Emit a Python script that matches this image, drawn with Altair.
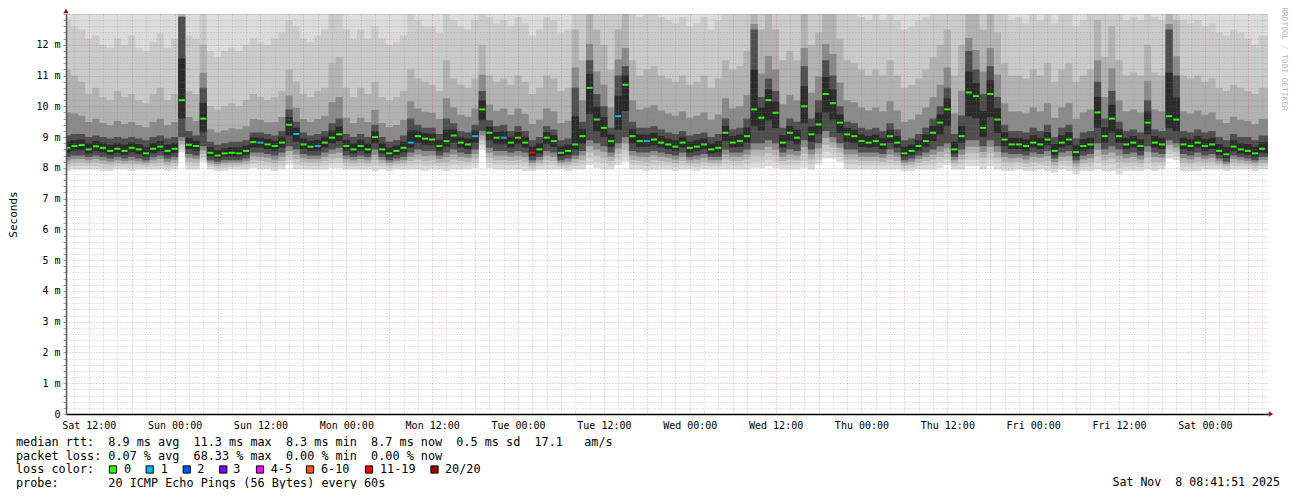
import altair as alt
import pandas as pd

# ---------------- data ----------------
# hourly samples, hour counted from Sat 00:00
hours = list(range(9, 177))

rtt_median = [
    8.65, 8.71, 8.74, 8.60, 8.70, 8.65, 8.55, 8.62, 8.55, 8.65, 8.60, 8.47,
    8.62, 8.69, 8.55, 8.62, 10.20, 8.75, 8.71, 9.60, 8.49, 8.40, 8.47, 8.49,
    8.47, 8.55, 8.84, 8.82, 8.76, 8.71, 8.82, 9.40, 9.10, 8.76, 8.69, 8.71,
    8.82, 8.98, 9.09, 8.71, 8.60, 8.71, 8.60, 9.00, 8.60, 8.47, 8.55, 8.65,
    8.82, 9.03, 8.95, 8.92, 8.71, 8.87, 9.05, 8.82, 8.76, 9.03, 9.90, 9.14,
    8.98, 8.98, 8.82, 8.98, 8.82, 8.49, 8.60, 8.98, 8.87, 8.49, 8.55, 8.76,
    9.03, 10.60, 9.57, 9.30, 8.87, 9.68, 10.70, 9.03, 8.87, 8.87, 8.92, 8.82,
    8.76, 8.69, 8.82, 8.65, 8.69, 8.76, 8.60, 8.65, 9.14, 8.82, 8.87, 9.03,
    9.90, 9.63, 10.20, 9.79, 8.82, 9.14, 8.98, 10.00, 9.09, 9.41, 10.40, 10.10,
    9.47, 9.09, 9.03, 8.87, 8.82, 8.87, 8.76, 9.03, 8.82, 8.47, 8.55, 8.71,
    8.87, 9.14, 9.47, 9.90, 8.60, 9.03, 10.45, 10.33, 9.30, 10.40, 9.57, 8.92,
    8.76, 8.76, 8.71, 8.82, 8.76, 8.92, 8.55, 8.82, 8.92, 8.51, 8.71, 8.76,
    9.80, 9.03, 9.60, 9.03, 8.76, 8.82, 8.71, 9.47, 8.82, 8.76, 9.68, 9.57,
    8.76, 8.71, 8.82, 8.71, 8.76, 8.55, 8.44, 8.69, 8.60, 8.55, 8.47, 8.62,
]

# lowest ping (bottom edge of the smoke)
smoke_floor = [
    7.90, 7.95, 7.95, 7.95, 7.95, 7.90, 7.90, 7.95, 7.95, 7.90, 7.95, 7.95,
    7.95, 7.95, 7.90, 7.95, 8.50, 7.95, 7.95, 8.20, 7.95, 7.90, 7.90, 7.95,
    7.95, 7.95, 8.00, 7.95, 7.95, 7.90, 7.95, 8.10, 7.95, 7.95, 7.95, 7.95,
    7.95, 8.00, 8.00, 7.95, 7.95, 7.95, 7.95, 7.90, 7.95, 7.90, 7.95, 7.95,
    7.95, 7.95, 7.90, 7.95, 7.95, 7.90, 7.95, 7.95, 7.95, 8.00, 8.60, 8.00,
    7.95, 7.95, 7.95, 7.95, 7.90, 7.90, 7.95, 7.95, 7.95, 7.95, 7.90, 7.95,
    7.95, 8.10, 8.00, 7.95, 7.95, 8.10, 8.20, 7.95, 7.95, 7.90, 7.95, 7.95,
    7.95, 7.90, 7.95, 7.95, 7.90, 7.95, 7.95, 7.95, 7.95, 7.95, 7.95, 7.95,
    8.00, 8.00, 8.05, 8.00, 7.95, 7.95, 7.95, 8.00, 7.95, 8.10, 8.30, 8.30,
    8.20, 7.95, 7.95, 7.95, 7.95, 7.95, 7.95, 7.95, 7.95, 7.90, 7.90, 7.95,
    7.95, 7.95, 8.00, 8.10, 7.95, 7.95, 8.05, 8.05, 7.95, 8.05, 7.95, 7.90,
    7.90, 7.95, 7.90, 7.90, 7.95, 7.90, 7.85, 7.95, 7.90, 7.80, 7.90, 7.90,
    7.95, 7.90, 7.90, 7.80, 7.90, 7.90, 7.90, 7.95, 7.90, 7.95, 8.30, 8.25,
    7.90, 7.90, 7.90, 7.95, 7.95, 7.95, 7.90, 7.95, 7.95, 7.95, 7.90, 7.95,
]

# lower edge of the dark core
smoke_low = [
    8.35, 8.40, 8.40, 8.35, 8.40, 8.35, 8.30, 8.35, 8.30, 8.35, 8.30, 8.25,
    8.35, 8.40, 8.30, 8.35, 9.00, 8.45, 8.40, 8.70, 8.25, 8.20, 8.25, 8.25,
    8.25, 8.30, 8.50, 8.50, 8.45, 8.40, 8.50, 8.70, 8.60, 8.45, 8.40, 8.40,
    8.50, 8.60, 8.65, 8.40, 8.35, 8.40, 8.35, 8.60, 8.35, 8.25, 8.30, 8.35,
    8.50, 8.60, 8.55, 8.55, 8.40, 8.50, 8.60, 8.50, 8.45, 8.60, 9.20, 8.65,
    8.55, 8.55, 8.50, 8.55, 8.50, 8.25, 8.35, 8.55, 8.50, 8.25, 8.30, 8.40,
    8.55, 8.90, 8.80, 8.70, 8.50, 8.80, 9.00, 8.55, 8.50, 8.50, 8.55, 8.50,
    8.45, 8.40, 8.50, 8.35, 8.40, 8.45, 8.35, 8.35, 8.60, 8.50, 8.50, 8.60,
    8.80, 8.80, 8.90, 8.80, 8.50, 8.60, 8.55, 8.90, 8.60, 8.80, 9.20, 9.00,
    8.80, 8.60, 8.60, 8.50, 8.50, 8.50, 8.45, 8.60, 8.50, 8.25, 8.30, 8.40,
    8.50, 8.60, 8.70, 8.80, 8.35, 8.60, 8.90, 8.90, 8.70, 8.90, 8.70, 8.50,
    8.45, 8.45, 8.40, 8.50, 8.45, 8.55, 8.30, 8.50, 8.55, 8.25, 8.40, 8.45,
    8.80, 8.60, 8.70, 8.60, 8.45, 8.50, 8.40, 8.70, 8.50, 8.45, 8.90, 8.80,
    8.45, 8.40, 8.50, 8.40, 8.45, 8.30, 8.20, 8.40, 8.35, 8.30, 8.25, 8.35,
]

# upper edge of the dark core
smoke_dark = [
    9.05, 9.10, 9.10, 9.00, 9.05, 9.00, 8.95, 9.00, 8.95, 9.00, 8.95, 8.90,
    9.00, 9.05, 8.95, 9.00, 12.90, 9.20, 9.05, 10.60, 8.85, 8.75, 8.80, 8.85,
    8.85, 8.90, 9.15, 9.15, 9.10, 9.05, 9.20, 9.90, 9.50, 9.15, 9.05, 9.10,
    9.20, 9.45, 9.60, 9.10, 9.00, 9.10, 9.00, 9.40, 9.00, 8.85, 8.90, 9.05,
    9.60, 9.40, 9.30, 9.30, 9.10, 9.60, 9.45, 9.20, 9.15, 9.40, 10.50, 9.55,
    9.35, 9.40, 9.20, 9.35, 9.20, 8.90, 9.00, 9.35, 9.25, 8.90, 8.95, 10.60,
    9.50, 11.50, 10.40, 10.00, 9.30, 11.00, 11.30, 9.50, 9.30, 9.30, 9.35, 9.25,
    9.15, 9.10, 9.20, 9.05, 9.10, 9.15, 9.00, 9.10, 9.60, 9.25, 9.30, 9.60,
    12.50, 10.30, 10.90, 10.50, 9.30, 9.60, 9.50, 11.30, 9.60, 10.20, 11.50, 11.00,
    10.00, 9.50, 9.45, 9.30, 9.25, 9.30, 9.20, 9.45, 9.25, 8.90, 8.95, 9.10,
    9.30, 9.60, 10.00, 10.60, 9.10, 9.70, 11.80, 11.20, 10.40, 11.30, 10.30, 9.40,
    9.20, 9.20, 9.15, 9.30, 9.20, 9.40, 9.00, 9.30, 9.40, 8.95, 9.15, 9.20,
    10.80, 9.60, 10.50, 9.50, 9.20, 9.25, 9.15, 10.20, 9.25, 9.20, 12.50, 11.00,
    9.20, 9.15, 9.25, 9.15, 9.20, 9.00, 8.90, 9.10, 9.00, 9.00, 8.90, 9.05,
]

# upper edge of the medium grey smoke
smoke_mid = [
    11.2, 11.0, 10.8, 10.4, 10.6, 10.3, 10.2, 10.5, 10.3, 10.4, 10.2, 10.1,
    10.4, 10.6, 10.2, 10.4, 13.0, 10.5, 10.4, 12.0, 10.0, 9.9, 10.0, 10.1,
    10.0, 10.2, 10.4, 10.3, 10.2, 10.3, 10.5, 11.2, 10.8, 10.4, 10.3, 10.5,
    10.6, 11.4, 11.6, 10.6, 10.3, 10.6, 10.4, 10.8, 10.3, 10.2, 10.3, 10.5,
    11.2, 10.9, 10.8, 10.7, 10.5, 11.5, 10.9, 10.7, 10.6, 10.9, 12.0, 11.0,
    10.8, 10.9, 10.7, 11.0, 10.8, 10.4, 10.6, 11.0, 10.9, 10.5, 10.6, 12.5,
    11.5, 13.0, 12.5, 12.0, 11.2, 12.5, 13.0, 11.5, 11.0, 11.2, 11.3, 11.0,
    10.9, 10.8, 11.0, 10.7, 10.8, 11.0, 10.6, 10.9, 11.5, 11.2, 11.3, 11.8,
    13.0, 12.5, 13.0, 12.5, 11.5, 11.8, 11.5, 13.0, 12.0, 12.4, 13.0, 13.0,
    12.2, 11.5, 11.4, 11.2, 11.0, 11.2, 11.0, 11.5, 11.0, 10.6, 10.7, 10.9,
    11.2, 11.6, 12.0, 12.5, 11.0, 12.0, 13.0, 13.0, 12.5, 13.0, 12.4, 11.4,
    11.0, 11.0, 10.9, 11.2, 11.0, 11.4, 10.8, 11.2, 11.4, 10.8, 11.0, 11.2,
    12.8, 11.6, 12.6, 11.5, 11.0, 11.1, 11.0, 12.0, 11.1, 11.0, 13.0, 12.8,
    11.0, 10.9, 11.0, 10.8, 10.9, 10.6, 10.5, 10.7, 10.6, 10.5, 10.4, 10.6,
]

# upper edge of the light grey smoke
smoke_high = [
    12.8, 12.6, 12.5, 12.2, 12.3, 12.0, 11.9, 12.2, 12.0, 12.3, 11.9, 11.8,
    12.1, 12.4, 11.9, 12.2, 13.0, 12.3, 12.2, 13.0, 11.8, 11.6, 11.8, 11.9,
    11.8, 12.0, 12.2, 12.1, 12.0, 12.2, 12.4, 12.8, 12.6, 12.2, 12.1, 12.3,
    12.5, 13.0, 13.0, 12.5, 12.2, 12.5, 12.2, 12.6, 12.2, 12.0, 12.1, 12.3,
    13.0, 12.8, 12.6, 12.6, 12.4, 13.0, 12.8, 12.6, 12.5, 12.8, 13.0, 12.9,
    12.7, 12.8, 12.6, 12.9, 12.7, 12.3, 12.5, 12.9, 12.8, 12.4, 12.5, 13.0,
    13.0, 13.0, 13.0, 13.0, 13.0, 13.0, 13.0, 13.0, 12.9, 13.0, 13.0, 12.9,
    12.8, 12.7, 12.9, 12.6, 12.7, 12.9, 12.5, 12.8, 13.0, 13.0, 13.0, 13.0,
    13.0, 13.0, 13.0, 13.0, 13.0, 13.0, 13.0, 13.0, 13.0, 13.0, 13.0, 13.0,
    13.0, 13.0, 13.0, 12.9, 12.8, 13.0, 12.8, 13.0, 12.8, 12.5, 12.6, 12.8,
    12.9, 13.0, 13.0, 13.0, 13.0, 13.0, 13.0, 13.0, 13.0, 13.0, 13.0, 13.0,
    12.8, 12.9, 12.7, 13.0, 12.8, 13.0, 12.7, 13.0, 13.0, 12.6, 12.8, 13.0,
    13.0, 13.0, 13.0, 13.0, 12.8, 12.9, 12.8, 13.0, 12.9, 12.8, 13.0, 13.0,
    12.8, 12.7, 12.8, 12.6, 12.7, 12.4, 12.3, 12.5, 12.4, 12.2, 12.0, 12.3,
]

# hours where the median was drawn in a loss colour, and lost pings there
loss_hours = [36, 41, 44, 57, 66, 70, 74, 86, 90]
loss_counts = [1, 1, 1, 1, 1, 1, 13, 1, 1]

loss_labels = ["0", "1", "2", "3", "4-5", "6-10", "11-19", "20/20"]
loss_colors = ["#26ff00", "#00b8ff", "#0059ff", "#7e00ff", "#ff00ff", "#ff5500", "#ff0000", "#a10000"]

day_names = ["Sat", "Sun", "Mon", "Tue", "Wed", "Thu", "Fri", "Sat"]

text_rows = [
    "median rtt:  8.9 ms avg  11.3 ms max  8.3 ms min  8.7 ms now  0.5 ms sd  17.1   am/s",
    "packet loss: 0.07 % avg  68.33 % max  0.00 % min  0.00 % now",
    "loss color:",
    "probe:       20 ICMP Echo Pings (56 Bytes) every 60s",
]
stamp = "Sat Nov  8 08:41:51 2025"
watermark = "RRDTOOL / TOBI OETIKER"

T0, T1 = 8.82, 176.82
Y_TOP = 13.0

for arr in (rtt_median, smoke_floor, smoke_low, smoke_dark, smoke_mid, smoke_high):
    assert len(arr) == len(hours)

# ---------------- table ----------------
df = pd.DataFrame({
    "t": hours, "median": rtt_median, "floor": smoke_floor, "low": smoke_low,
    "dark": smoke_dark, "mid": smoke_mid, "high": smoke_high,
})
first = df.iloc[[0]].copy(); first["t"] = T0
last = df.iloc[[-1]].copy(); last["t"] = T1
df = pd.concat([first, df, last], ignore_index=True)
df["top"] = Y_TOP
# grey shade steps between the read edges (a stepped gradient)
df["b1"] = df["floor"] + 0.25 * (df["low"] - df["floor"])
df["b2"] = df["floor"] + 0.50 * (df["low"] - df["floor"])
df["b3"] = df["floor"] + 0.75 * (df["low"] - df["floor"])
df["d1"] = df["dark"] + 0.35 * (df["mid"] - df["dark"])
df["c_lo"] = (df["low"] + df["median"]) / 2
df["c_hi"] = (df["median"] + df["dark"]) / 2


def loss_class(n):
    if n <= 3:
        return n
    if n <= 5:
        return 4
    if n <= 10:
        return 5
    if n <= 19:
        return 6
    return 7


loss_map = dict(zip(loss_hours, loss_counts))
med = pd.DataFrame({"t": hours, "median": rtt_median})
med["x1"] = med["t"] - 0.42
med["x2"] = med["t"] + 0.42
med["col"] = [loss_colors[loss_class(loss_map.get(h, 0))] for h in hours]

one = pd.DataFrame({"k": [0]})

# ---------------- scales / axes ----------------
MONO = "DejaVu Sans Mono"
NB = "\u00a0"
xscale = alt.Scale(domain=[T0, T1], nice=False, zero=False)
yscale = alt.Scale(domain=[0, Y_TOP], nice=False, zero=True)

days_js = "[" + ",".join("'%s'" % d for d in day_names) + "]"
xtest = "datum.value % 6 == 0"
x_axis = alt.Axis(
    values=list(range(10, 177, 2)),
    labelExpr=("datum.value % 12 == 0 ? " + days_js + "[floor(datum.value / 24)] + ' ' + "
               "(datum.value % 24 == 0 ? '00:00' : '12:00') : ''"),
    labelFont=MONO, labelFontSize=10, labelColor="#000000", labelPadding=6,
    labelOverlap=False, labelFlush=False,
    ticks=False, domain=True, domainColor="#000000", domainWidth=1.5,
    grid=True,
    gridColor={"condition": {"test": xtest, "value": "#cc3333"}, "value": "#808080"},
    gridOpacity={"condition": {"test": xtest, "value": 0.42}, "value": 0.42},
    gridDash=[1, 2], gridWidth=1,
    title=None, zindex=1,
)
ytest = "abs(datum.value - round(datum.value)) < 0.01"
y_axis = alt.Axis(
    values=[round(i * 0.2, 1) for i in range(66)],
    labelExpr=("(" + ytest + " && datum.value < 12.5) ? (datum.value == 0 ? '0" + NB + NB +
               "' : format(datum.value, 'd') + '" + NB + "m') : ''"),
    labelFont=MONO, labelFontSize=10, labelColor="#000000", labelPadding=3,
    labelOverlap=False, labelFlush=False,
    ticks=True, tickSize=3, tickColor="#a0a0a0",
    domain=True, domainColor="#555555", domainWidth=1.5,
    grid=True,
    gridColor={"condition": {"test": ytest, "value": "#cc3333"}, "value": "#808080"},
    gridOpacity={"condition": {"test": ytest, "value": 0.42}, "value": 0.42},
    gridDash=[1, 2], gridWidth=1,
    title="Seconds", titleFont=MONO, titleFontSize=11, titleFontWeight="normal",
    titleColor="#000000", titleX=-53, titleY=200, titleAngle=270,
    titleAlign="center", titleBaseline="middle",
    zindex=1,
)

base = alt.Chart(df)


def band(lower, upper, color):
    return base.mark_area(interpolate="step", color=color, clip=True, opacity=1).encode(
        x=alt.X("t:Q", scale=xscale, axis=x_axis),
        y=alt.Y(lower + ":Q", scale=yscale, axis=y_axis),
        y2=alt.Y2(upper + ":Q"),
    )


smoke_layers = [
    band("floor", "top", "#dcdcdc"),
    band("b1", "high", "#cbcbcb"),
    band("b2", "mid", "#b3b3b3"),
    band("b3", "d1", "#8a8a8a"),
    band("low", "dark", "#4e4e4e"),
    band("c_lo", "c_hi", "#2a2a2a"),
]

median_layer = alt.Chart(med).mark_rule(strokeWidth=2, clip=True).encode(
    x=alt.X("x1:Q", scale=xscale, axis=x_axis),
    x2=alt.X2("x2:Q"),
    y=alt.Y("median:Q", scale=yscale, axis=y_axis),
    color=alt.Color("col:N", scale=None, legend=None),
)

# ---------------- arrows on the axes ----------------
arrow_up = alt.Chart(one).mark_point(shape="triangle-up", filled=True, color="#8b1a1a",
                                     size=28, opacity=1).encode(
    x=alt.value(0), y=alt.value(-3))
arrow_right = alt.Chart(one).mark_point(shape="triangle-right", filled=True, color="#8b1a1a",
                                        size=28, opacity=1).encode(
    x=alt.value(1205), y=alt.value(400))

# ---------------- legend text under the chart ----------------
rows_df = pd.DataFrame({
    "txt": [r.replace(" ", NB) for r in text_rows],
    "px": [-50, -50, -50, -50],
    "py": [427.7, 441.5, 455.3, 469.2],
})
rows_layer = alt.Chart(rows_df).mark_text(
    font=MONO, fontSize=11.8, align="left", baseline="middle", color="#000000"
).encode(
    x=alt.X("px:Q", scale=None), y=alt.Y("py:Q", scale=None), text="txt:N"
)

box_df = pd.DataFrame({
    "bx": [47.0, 83.7, 120.7, 157.3, 194.0, 244.0, 303.0, 368.5],
    "lx": [58.0, 94.7, 131.3, 167.3, 204.7, 255.0, 314.0, 379.0],
    "col": loss_colors,
    "lab": loss_labels,
})
boxes = alt.Chart(box_df).mark_point(shape="square", filled=True, size=52, stroke="#000000",
                                     strokeWidth=1, opacity=1).encode(
    x=alt.X("bx:Q", scale=None), y=alt.value(455.5),
    fill=alt.Fill("col:N", scale=None, legend=None),
)
box_labels = alt.Chart(box_df).mark_text(
    font=MONO, fontSize=11.8, align="left", baseline="middle", color="#000000"
).encode(x=alt.X("lx:Q", scale=None), y=alt.value(455.3), text="lab:N")

stamp_layer = alt.Chart(one).mark_text(
    font=MONO, fontSize=11.6, align="right", baseline="middle", color="#000000",
    text=stamp.replace(" ", NB)
).encode(x=alt.value(1214), y=alt.value(469.2))

watermark_layer = alt.Chart(one).mark_text(
    font=MONO, fontSize=7.8, align="center", baseline="middle", color="#b4b4b4",
    angle=90, text=watermark.replace(" ", NB)
).encode(x=alt.value(1217.5), y=alt.value(45))

chart = alt.layer(
    *smoke_layers, median_layer, arrow_up, arrow_right,
    rows_layer, boxes, box_labels, stamp_layer, watermark_layer,
).properties(
    width=1202, height=400,
    padding={"left": 58, "top": 6, "right": 21, "bottom": 75},
    autosize=alt.AutoSizeParams(type="none"),
    background="#ffffff",
).configure_view(stroke=None)

chart.save("out.html", embed_options={"renderer": "svg", "actions": False})
